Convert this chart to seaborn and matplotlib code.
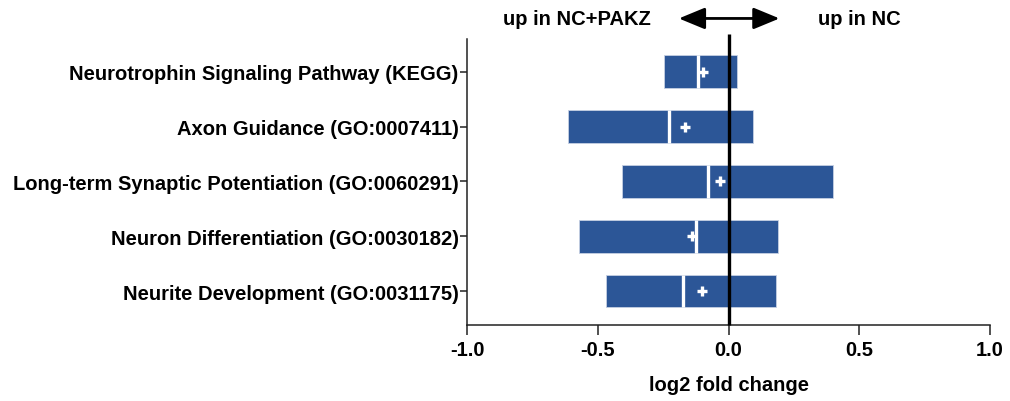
import matplotlib
matplotlib.use("Agg")
import matplotlib.pyplot as plt
import seaborn as sns
import pandas as pd

# Gene-set fold-change summaries (log2): lower quartile, median, upper quartile, mean
terms = [
    "Neurotrophin Signaling Pathway (KEGG)",
    "Axon Guidance (GO:0007411)",
    "Long-term Synaptic Potentiation (GO:0060291)",
    "Neuron Differentiation (GO:0030182)",
    "Neurite Development (GO:0031175)",
]
q1 = [-0.247, -0.614, -0.408, -0.571, -0.470]
median = [-0.117, -0.227, -0.077, -0.125, -0.174]
q3 = [0.033, 0.094, 0.398, 0.188, 0.183]
mean = [-0.098, -0.167, -0.033, -0.141, -0.101]

xticks = [-1.0, -0.5, 0.0, 0.5, 1.0]
xlabel = "log2 fold change"
left_note = "up in NC+PAKZ"
right_note = "up in NC"

df = pd.DataFrame({"term": terms, "q1": q1, "median": median, "q3": q3, "mean": mean})

sns.set_theme(style="ticks")
plt.rcParams["font.family"] = ["Liberation Sans", "DejaVu Sans"]
plt.rcParams["font.weight"] = "bold"
plt.rcParams["text.color"] = "black"
plt.rcParams["axes.labelcolor"] = "black"
plt.rcParams["xtick.color"] = "black"
plt.rcParams["ytick.color"] = "black"

FS = 14.5

fig = plt.figure(figsize=(10.1, 4.02), dpi=100)
ax = fig.add_axes([0.4624, 0.189, 0.5178, 0.7115])

box_color = "#2c5697"
pos = list(range(len(terms)))

# interquartile boxes
ax.barh(pos, df["q3"] - df["q1"], left=df["q1"], height=0.6,
        color=box_color, edgecolor="#c5d0e3", linewidth=0.6, zorder=2)
# median as a white gap
for i, m in zip(pos, df["median"]):
    ax.plot([m, m], [i - 0.3, i + 0.3], color="white", lw=2.4,
            solid_capstyle="butt", zorder=3)

# mean markers
sns.scatterplot(x=df["mean"], y=pos, marker="+", s=60, color="white",
                linewidth=2.4, ax=ax, zorder=4, legend=False)

# zero reference line
ax.plot([0, 0], [4.62, -0.7], color="black", lw=2.4, zorder=5,
        clip_on=False, solid_capstyle="butt")

ax.set_xlim(-1.0, 1.0)
ax.set_ylim(4.62, -0.6)
ax.set_xticks(xticks)
ax.set_xticklabels([f"{v:.1f}" for v in xticks])
ax.set_yticks(pos)
ax.set_yticklabels(terms)
ax.set_xlabel(xlabel, fontsize=FS, fontweight="bold", labelpad=11)
ax.set_ylabel("")

for s in ["top", "right"]:
    ax.spines[s].set_visible(False)
for s in ["left", "bottom"]:
    ax.spines[s].set_linewidth(1.1)
    ax.spines[s].set_color("#222222")

ax.tick_params(axis="x", length=7, width=1.1, labelsize=FS, pad=4, color="#222222")
ax.tick_params(axis="y", length=5, width=1.1, labelsize=FS, pad=1, color="#222222")
for lab in ax.get_xticklabels() + ax.get_yticklabels():
    lab.set_fontweight("bold")

# direction annotation above the plot
ay = -0.975
ax.annotate("", xy=(-0.19, ay), xytext=(0.195, ay),
            arrowprops=dict(arrowstyle="<|-|>,head_length=0.8,head_width=0.33",
                            color="black", lw=2.0,
                            mutation_scale=20, shrinkA=0, shrinkB=0),
            annotation_clip=False)
ax.text(-0.58, ay, left_note, ha="center", va="center", fontsize=FS,
        fontweight="bold")
ax.text(0.5, ay, right_note, ha="center", va="center", fontsize=FS,
        fontweight="bold")

fig.savefig("out.png", dpi=100)
